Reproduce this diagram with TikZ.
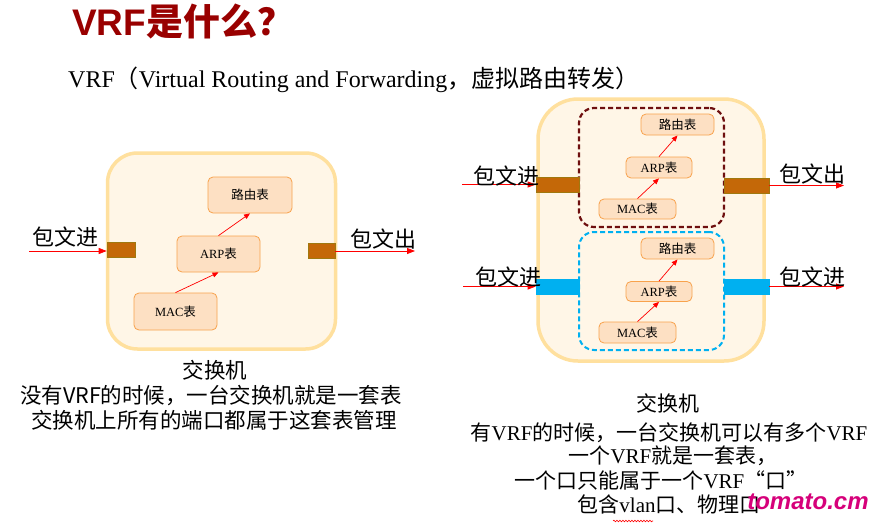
\documentclass[tikz,border=0pt]{standalone}
\usepackage{fontspec}
\setmainfont{Liberation Serif}
\setsansfont{Liberation Sans}
\newfontfamily\cjk{Noto Sans CJK SC}
\newcommand\zhtext[1]{{\cjk #1}}
\usetikzlibrary{arrows.meta,decorations.pathmorphing}
\definecolor{titlered}{HTML}{990000}
\definecolor{swfill}{HTML}{FFF6E7}
\definecolor{swborder}{HTML}{FFE09E}
\definecolor{tblfill}{HTML}{FDE0C3}
\definecolor{tblborder}{HTML}{F8A24C}
\definecolor{portbrown}{HTML}{C46808}
\definecolor{portedge}{HTML}{A0780F}
\definecolor{vrfred}{HTML}{6E0F0F}
\definecolor{vrfblue}{HTML}{00B0F0}
\definecolor{wmcolor}{HTML}{D6007A}
\tikzset{
  switchbox/.style={draw=swborder, fill=swfill, line width=3.5pt, inner sep=0pt},
  tbl/.style={draw=tblborder, fill=tblfill, line width=0.8pt, rounded corners=5pt, inner sep=0pt, font=\fontsize{12.5}{14}\selectfont},
  portb/.style={draw=portedge, fill=portbrown, line width=0.6pt, inner sep=0pt},
  portc/.style={draw=vrfblue, fill=vrfblue, line width=0.6pt, inner sep=0pt},
  vrfa/.style={draw=vrfred, line width=2.2pt, dash pattern=on 5pt off 3pt, rounded corners=15pt, inner sep=0pt},
  vrfb/.style={draw=vrfblue, line width=2pt, dash pattern=on 5pt off 3pt, rounded corners=15pt, inner sep=0pt},
  tblarrow/.style={draw=red, line width=0.7pt, -{Triangle[length=6pt,width=5pt]}},
  portarrow/.style={draw=red, line width=0.8pt, -{Triangle[length=8pt,width=6pt]}},
  pktlabel/.style={font=\cjk\fontsize{22}{24}\selectfont, inner sep=0pt},
  capl/.style={font=\cjk\fontsize{21.5}{24}\selectfont, inner sep=0pt},
  capr/.style={font=\fontsize{21}{24}\selectfont, inner sep=0pt},
}
\begin{document}
\begin{tikzpicture}[x=1pt,y=-1pt]
\useasboundingbox (0,0) rectangle (878,530);
\fill[white] (0,0) rectangle (878,530);

% title and subtitle
\node[inner sep=0pt, anchor=west, text=titlered, font=\sffamily\bfseries\fontsize{37}{40}\selectfont] (title) at (72,22) {VRF{\cjk\bfseries 是什么？}};
\node[inner sep=0pt, anchor=base west, font=\fontsize{24}{26}\selectfont] (subtitle) at (68,87) {VRF\zhtext{（}Virtual Routing and Forwarding\zhtext{，虚拟路由转发）}};

% ---------------- left switch ----------------
\node[switchbox, rounded corners=30pt, minimum width=228pt, minimum height=196pt] (lsw) at (221.5,251) {};
\node[portb, minimum width=28pt, minimum height=15pt] (lin) at (121,249.5) {};
\node[portb, minimum width=27pt, minimum height=15pt] (lout) at (321.5,250.5) {};
\node[tbl, minimum width=84pt, minimum height=36pt] (lrt) at (250,195) {\zhtext{路由表}};
\node[tbl, minimum width=83pt, minimum height=36pt] (larp) at (218.5,254) {ARP\zhtext{表}};
\node[tbl, minimum width=83pt, minimum height=37pt] (lmac) at (175.5,311.5) {MAC\zhtext{表}};
\draw[tblarrow] (lmac.north) -- (larp.south);
\draw[tblarrow] (larp.north) -- (lrt.south);
\coordinate (linstart) at (29,251);
\coordinate (loutend) at (415,251);
\draw[portarrow] (linstart) -- (lin.west |- linstart);
\draw[portarrow] (lout.east |- loutend) -- (loutend);
\node[pktlabel] (linlabel) at (65.5,237.5) {包文进};
\node[pktlabel] (loutlabel) at (383.5,239) {包文出};

\node[capl] (lcap1) at (215,370) {交换机};
\node[capl] (lcap2) at (211,396) {没有VRF的时候，一台交换机就是一套表};
\node[capl] (lcap3) at (214,420) {交换机上所有的端口都属于这套表管理};

% ---------------- right switch ----------------
\node[switchbox, rounded corners=40pt, minimum width=226pt, minimum height=262pt] (rsw) at (651,230) {};
\node[vrfa, minimum width=145pt, minimum height=119pt] (vrf1) at (651.5,167.5) {};
\node[vrfb, minimum width=145pt, minimum height=118pt] (vrf2) at (651.5,291) {};

\node[portb, minimum width=43pt, minimum height=15pt] (r1in) at (557.5,184.5) {};
\node[portb, minimum width=45pt, minimum height=15pt] (r1out) at (746.5,185.5) {};
\node[portc, minimum width=43pt, minimum height=15pt] (r2in) at (557.5,286.5) {};
\node[portc, minimum width=45pt, minimum height=15pt] (r2out) at (746.5,286.5) {};

\node[tbl, minimum width=73pt, minimum height=21pt] (r1rt) at (677.5,124.5) {\zhtext{路由表}};
\node[tbl, minimum width=66pt, minimum height=21pt] (r1arp) at (659,167.5) {ARP\zhtext{表}};
\node[tbl, minimum width=77pt, minimum height=20pt] (r1mac) at (637.5,209) {MAC\zhtext{表}};
\draw[tblarrow] (r1mac.north) -- (r1arp.south);
\draw[tblarrow] (r1arp.north) -- (r1rt.south);

\node[tbl, minimum width=73pt, minimum height=21pt] (r2rt) at (677.5,248.5) {\zhtext{路由表}};
\node[tbl, minimum width=66pt, minimum height=20pt] (r2arp) at (659,291.5) {ARP\zhtext{表}};
\node[tbl, minimum width=77pt, minimum height=21pt] (r2mac) at (637.5,332.5) {MAC\zhtext{表}};
\draw[tblarrow] (r2mac.north) -- (r2arp.south);
\draw[tblarrow] (r2arp.north) -- (r2rt.south);

\coordinate (r1start) at (462,184.5);
\coordinate (r1end) at (844,185.5);
\coordinate (r2start) at (463,286.5);
\coordinate (r2end) at (844,286.5);
\draw[portarrow] (r1start) -- (r1in.west |- r1start);
\draw[portarrow] (r1out.east |- r1end) -- (r1end);
\draw[portarrow] (r2start) -- (r2in.west |- r2start);
\draw[portarrow] (r2out.east |- r2end) -- (r2end);

\node[pktlabel] (r1inlabel) at (506.5,176.5) {包文进};
\node[pktlabel] (r1outlabel) at (812.5,174) {包文出};
\node[pktlabel] (r2inlabel) at (508.5,277.5) {包文进};
\node[pktlabel] (r2outlabel) at (812.5,277.5) {包文进};

\node[capr] (rcap1) at (668,403.5) {\zhtext{交换机}};
\node[capr] (rcap2) at (669,432.5) {\zhtext{有}VRF\zhtext{的时候，一台交换机可以有多个}VRF};
\node[capr] (rcap3) at (673,456) {\zhtext{一个}VRF\zhtext{就是一套表，}};
\node[capr] (rcap4) at (661,480) {\zhtext{一个口只能属于一个}VRF\zhtext{“口”}};
\node[capr] (rcap5) at (669,504) {\zhtext{包含}vlan\zhtext{口、物理口}};
\draw[red, line width=0.6pt, decorate, decoration={snake, amplitude=0.8pt, segment length=3pt}] (613,521) -- (653,521);

\node[inner sep=0pt, text=wmcolor, font=\sffamily\bfseries\itshape\fontsize{24}{26}\selectfont] (wm) at (808,502) {tomato.cm};
\end{tikzpicture}
\end{document}
